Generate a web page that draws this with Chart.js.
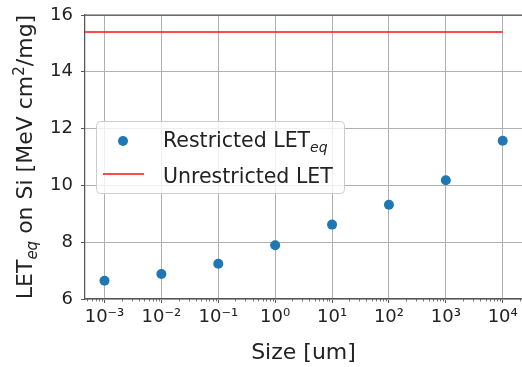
<!DOCTYPE html>
<html>
<head>
<meta charset="utf-8">
<script src="https://cdn.jsdelivr.net/npm/chart.js@4/dist/chart.umd.min.js"></script>
<style>
  html, body { margin: 0; padding: 0; background: #fff; overflow: hidden; }
  #wrap { position: relative; width: 522px; height: 367px; }
</style>
</head>
<body>
<div id="wrap"><canvas id="chart" width="522" height="367"></canvas></div>
<script>
// data
const sizes = [1e-3, 1e-2, 1e-1, 1e0, 1e1, 1e2, 1e3, 1e4];
const restrictedLET = [6.64, 6.88, 7.24, 7.89, 8.62, 9.32, 10.18, 11.57];
const unrestrictedLET = 15.4;
const yTicks = [6, 8, 10, 12, 14, 16];
const seriesLabels = ['Restricted LET_{eq}', 'Unrestricted LET'];
const xTitle = 'Size [um]';
const yTitle = 'LET_{eq} on Si [MeV cm^{2}/mg]';

const X_MIN = Math.pow(10, -3.343);
const X_MAX = Math.pow(10, 4.339);

const colors = {
    blue: '#1f77b4',
    red: 'rgba(255, 30, 30, 0.8)',
    grid: '#b0b0b0',
    spine: '#555555',
    text: '#222222'
};
const FONT = '"DejaVu Sans", sans-serif';

const supMap = { '-': '\u207B', '0': '\u2070', '1': '\u00B9', '2': '\u00B2', '3': '\u00B3', '4': '\u2074',
    '5': '\u2075', '6': '\u2076', '7': '\u2077', '8': '\u2078', '9': '\u2079' };
function powLabel(v) {
    const e = String(Math.round(Math.log10(v)));
    return '10' + e.split('').map(c => supMap[c]).join('');
}

// split "abc_{x}def^{2}" into runs
function parseRich(text) {
    const runs = [];
    const re = /([_^])\{([^}]*)\}/g;
    let last = 0, m;
    while ((m = re.exec(text)) !== null) {
        if (m.index > last) runs.push({ t: text.slice(last, m.index), k: 'n' });
        runs.push({ t: m[2], k: m[1] === '_' ? 'sub' : 'sup' });
        last = re.lastIndex;
    }
    if (last < text.length) runs.push({ t: text.slice(last), k: 'n' });
    return runs;
}
function runFont(r, size) {
    if (r.k === 'sub') return 'italic ' + Math.round(size * 0.7) + 'px ' + FONT;
    if (r.k === 'sup') return Math.round(size * 0.7) + 'px ' + FONT;
    return size + 'px ' + FONT;
}
function richWidth(ctx, text, size) {
    let w = 0;
    parseRich(text).forEach(r => { ctx.font = runFont(r, size); w += ctx.measureText(r.t).width; });
    return w;
}
function drawRich(ctx, text, x, y, size) {
    let cx = x;
    ctx.textBaseline = 'alphabetic';
    ctx.textAlign = 'left';
    parseRich(text).forEach(r => {
        ctx.font = runFont(r, size);
        let dy = 0;
        if (r.k === 'sub') dy = size * 0.22;
        if (r.k === 'sup') dy = -size * 0.38;
        ctx.fillText(r.t, cx, y + dy);
        cx += ctx.measureText(r.t).width;
    });
}

const decorPlugin = {
    id: 'decor',
    afterDraw(chart) {
        const ctx = chart.ctx;
        const area = chart.chartArea;
        const xs = chart.scales.x;
        ctx.save();

        // top spine
        ctx.strokeStyle = colors.spine;
        ctx.lineWidth = 1.25;
        ctx.beginPath();
        ctx.moveTo(area.left, area.top);
        ctx.lineTo(area.right + 1, area.top);
        ctx.stroke();

        // minor log ticks
        ctx.lineWidth = 0.8;
        ctx.beginPath();
        for (let k = -4; k <= 4; k++) {
            for (let m = 2; m <= 9; m++) {
                const v = m * Math.pow(10, k);
                if (v < X_MIN || v > X_MAX) continue;
                const px = Math.round(xs.getPixelForValue(v)) + 0.5;
                ctx.moveTo(px, area.bottom);
                ctx.lineTo(px, area.bottom + 2.5);
            }
        }
        ctx.stroke();

        // axis titles
        ctx.fillStyle = colors.text;
        const xw = richWidth(ctx, xTitle, 22);
        drawRich(ctx, xTitle, (area.left + area.right) / 2 - xw / 2, 359, 22);

        ctx.save();
        ctx.translate(32, 157);
        ctx.rotate(-Math.PI / 2);
        const yw = richWidth(ctx, yTitle, 22);
        drawRich(ctx, yTitle, -yw / 2, 0, 22);
        ctx.restore();

        // legend
        const bx = 96, by = 121, bw = 248, bh = 72;
        ctx.fillStyle = 'rgba(255,255,255,0.8)';
        ctx.strokeStyle = '#cccccc';
        ctx.lineWidth = 1;
        ctx.beginPath();
        ctx.roundRect(bx + 0.5, by + 0.5, bw, bh, 4);
        ctx.fill();
        ctx.stroke();

        const ds = chart.data.datasets;
        ctx.fillStyle = ds[0].backgroundColor;
        ctx.beginPath();
        ctx.arc(123, 141, 5, 0, Math.PI * 2);
        ctx.fill();

        ctx.strokeStyle = ds[1].borderColor;
        ctx.lineWidth = 2;
        ctx.beginPath();
        ctx.moveTo(103, 174);
        ctx.lineTo(144, 174);
        ctx.stroke();

        ctx.fillStyle = colors.text;
        drawRich(ctx, ds[0].label, 163, 147, 20.5);
        drawRich(ctx, ds[1].label, 163, 183, 20.5);

        ctx.restore();
    }
};

const ctx = document.getElementById('chart').getContext('2d');
new Chart(ctx, {
    type: 'scatter',
    data: {
        datasets: [
            {
                label: seriesLabels[0],
                data: sizes.map((s, i) => ({ x: s, y: restrictedLET[i] })),
                backgroundColor: colors.blue,
                borderWidth: 0,
                pointRadius: 5,
                order: 1
            },
            {
                label: seriesLabels[1],
                type: 'line',
                data: [{ x: X_MIN, y: unrestrictedLET }, { x: sizes[sizes.length - 1], y: unrestrictedLET }],
                borderColor: colors.red,
                borderWidth: 2,
                pointRadius: 0,
                fill: false,
                order: 2
            }
        ]
    },
    options: {
        responsive: false,
        animation: false,
        devicePixelRatio: 1,
        layout: { autoPadding: false, padding: { top: 15, left: 0, right: 0, bottom: 0 } },
        plugins: {
            legend: { display: false },
            tooltip: { enabled: false }
        },
        scales: {
            x: {
                type: 'logarithmic',
                min: X_MIN,
                max: X_MAX,
                afterBuildTicks: (scale) => { scale.ticks = sizes.map(v => ({ value: v, major: true })); },
                afterFit: (scale) => {
                    scale.height = 68;
                    scale.paddingLeft = 0;
                    scale.paddingRight = 0;
                },
                ticks: {
                    autoSkip: false,
                    maxRotation: 0,
                    color: colors.text,
                    font: { family: FONT, size: 18 },
                    padding: 4,
                    callback: (v) => powLabel(v)
                },
                grid: { color: colors.grid, lineWidth: 1, tickColor: colors.spine, tickLength: 4 },
                border: { color: colors.spine, width: 1.25 }
            },
            y: {
                min: 6,
                max: 16,
                afterBuildTicks: (scale) => { scale.ticks = yTicks.map(v => ({ value: v })); },
                afterFit: (scale) => {
                    scale.width = 85;
                    scale.paddingTop = 0;
                    scale.paddingBottom = 0;
                },
                ticks: {
                    color: colors.text,
                    font: { family: FONT, size: 18 },
                    padding: 8
                },
                grid: { color: colors.grid, lineWidth: 1, tickColor: colors.spine, tickLength: 4 },
                border: { color: colors.spine, width: 1.25 }
            }
        }
    },
    plugins: [decorPlugin]
});
</script>
</body>
</html>
